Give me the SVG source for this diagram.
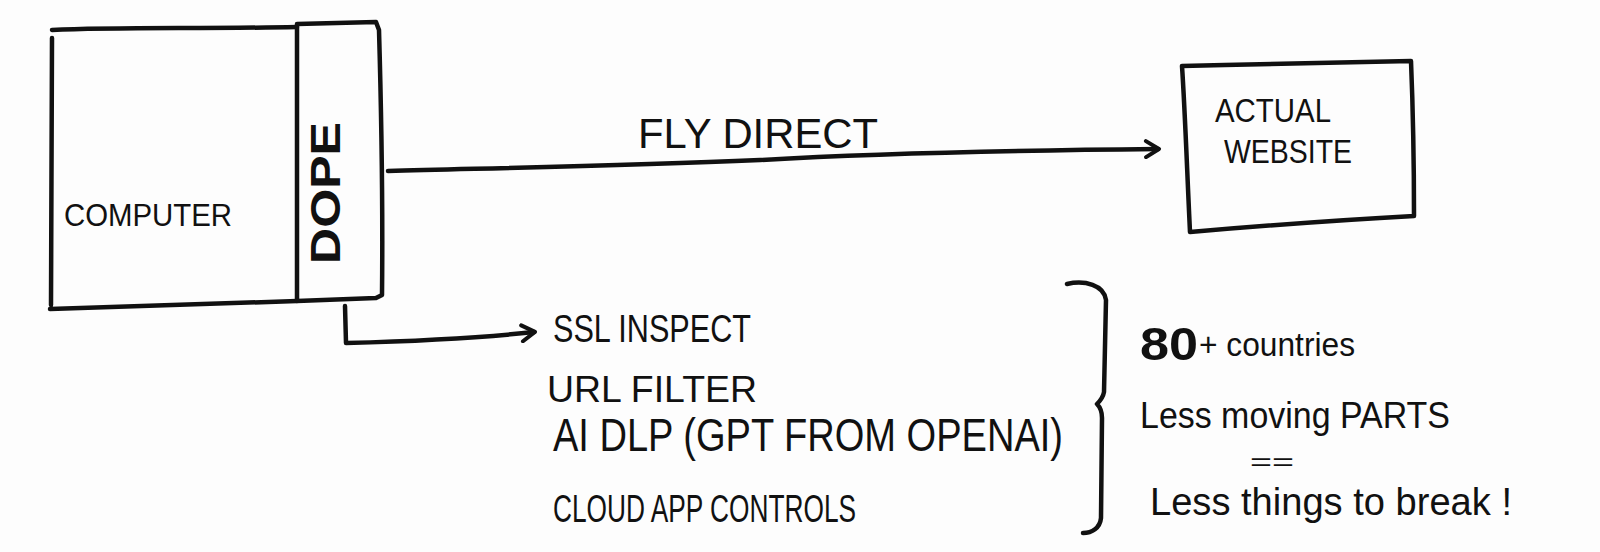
<svg xmlns="http://www.w3.org/2000/svg" width="1600" height="552" viewBox="0 0 1600 552">
<defs>
<style>
.ln{fill:none;stroke:#111;stroke-width:4.5;stroke-linecap:round;stroke-linejoin:round}
.t{font-family:"Liberation Sans",Arial,sans-serif;fill:#111}
</style>
<marker id="ah" viewBox="0 0 20 20" refX="16" refY="10" markerWidth="20" markerHeight="20" markerUnits="userSpaceOnUse" orient="auto">
<path d="M4,2 L17,10 L4,18" fill="none" stroke="#111" stroke-width="4" stroke-linecap="round" stroke-linejoin="round"/>
</marker>
</defs>
<rect width="1600" height="552" fill="#fdfdfd"/>
<g id="computer">
<path class="ln" d="M52,30 C120,27 200,29 297,27 M52,38 L51,305 M50,309 C150,305 250,302 297,301"/>
<text class="t" x="64" y="226" font-size="32" textLength="168" lengthAdjust="spacingAndGlyphs">COMPUTER</text>
</g>
<g id="dope">
<path class="ln" d="M297,24 L376,22 L379,30 C381,100 383,200 382,295 L376,298 L297,301 L297,24"/>
<text class="t" transform="translate(340,193) rotate(-90)" text-anchor="middle" font-size="42" font-weight="bold" textLength="142" lengthAdjust="spacingAndGlyphs">DOPE</text>
</g>
<g id="website">
<path class="ln" d="M1182,66 C1260,64 1340,62 1411,61 C1413,110 1414,170 1414,216 C1340,220 1260,226 1190,232 C1187,170 1185,110 1182,66"/>
<text class="t" x="1215" y="122" font-size="34" textLength="116" lengthAdjust="spacingAndGlyphs">ACTUAL</text>
<text class="t" x="1224" y="163" font-size="34" textLength="128" lengthAdjust="spacingAndGlyphs">WEBSITE</text>
</g>
<g id="connectors">
<path class="ln" marker-end="url(#ah)" d="M388,171 C500,168 620,166 760,160 C900,152 1050,150 1158,149"/>
<path class="ln" marker-end="url(#ah)" d="M345,306 L346,343 C420,341 480,338 534,332"/>
</g>
<g id="labels">
<text class="t" x="638" y="148" font-size="42" textLength="240" lengthAdjust="spacingAndGlyphs">FLY DIRECT</text>
<text class="t" x="553" y="342" font-size="38" textLength="198" lengthAdjust="spacingAndGlyphs">SSL INSPECT</text>
<text class="t" x="547" y="402" font-size="36" textLength="210" lengthAdjust="spacingAndGlyphs">URL FILTER</text>
<text class="t" x="553" y="451" font-size="46" textLength="510" lengthAdjust="spacingAndGlyphs">AI DLP (GPT FROM OPENAI)</text>
<text class="t" x="553" y="522" font-size="38" textLength="303" lengthAdjust="spacingAndGlyphs">CLOUD APP CONTROLS</text>
</g>
<g id="brace">
<path class="ln" d="M1067,284 C1085,280 1104,285 1106,300 L1104,392 C1103,398 1100,401 1097,404 C1100,407 1102,411 1102,418 L1101,518 C1100,528 1092,533 1083,533"/>
</g>
<g id="notes">
<text class="t" x="1140" y="360" font-size="46" font-weight="bold" textLength="58" lengthAdjust="spacingAndGlyphs">80</text>
<text class="t" x="1199" y="356" font-size="34" textLength="156" lengthAdjust="spacingAndGlyphs">+ countries</text>
<text class="t" x="1140" y="428" font-size="36" textLength="310" lengthAdjust="spacingAndGlyphs">Less moving PARTS</text>
<text class="t" x="1250" y="470" font-size="24" textLength="44" lengthAdjust="spacingAndGlyphs">==</text>
<text class="t" x="1150" y="515" font-size="38" textLength="362" lengthAdjust="spacingAndGlyphs">Less things to break !</text>
</g>
</svg>
